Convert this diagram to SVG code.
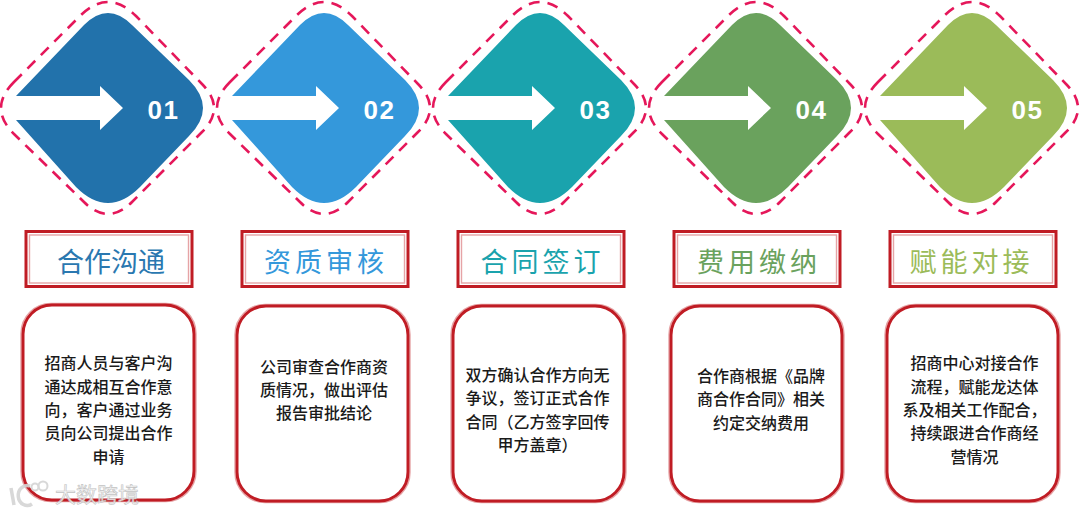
<svg xmlns="http://www.w3.org/2000/svg" width="1080" height="515" viewBox="0 0 1080 515">
<style>
text{font-family:"Liberation Sans","Noto Sans CJK SC",sans-serif}
.d{fill:none;stroke:#e5175a;stroke-width:2.6;stroke-dasharray:11 8}
.n{fill:#fff;font-size:26px;font-weight:700;letter-spacing:1.5px}
.t{font-family:"Noto Sans CJK SC",sans-serif;font-size:27px;font-weight:400;text-anchor:middle;letter-spacing:4px}
.o{fill:none;stroke:#c01c24;stroke-width:3}
.i{fill:none;stroke:#e6a4a6;stroke-width:1.4}
.b{font-family:"Noto Sans CJK SC",sans-serif;font-size:16px;font-weight:500;fill:#1a1a1a;text-anchor:middle}
</style>
<defs>
<path id="dia" d="M16,96L84,25Q108,1 132,25L189,80Q217,108 189,136L140,187Q108,219 76,187L16,120Z"/>
<path id="arr" d="M0,96H100V86L123,108L100,130V120H0Z" fill="#fff"/>
<path id="dash" class="d" d="M14,82L80,16Q108,-12 136,16L202,84Q226,108 202,132L132,202Q108,226 84,202L14,134Q-12,108 14,82Z"/>
<rect id="box" class="o" x="26" y="231.500" width="166" height="55"/>
<rect id="bin" class="i" x="29.500" y="235" width="159" height="48"/>
<rect id="card" class="o" x="23" y="306" width="171" height="195" rx="29"/>
<rect id="cin" class="i" x="21" y="304.500" width="175" height="198" rx="30"/>
</defs>
<g id="connectors"/>
<g id="node1"><use href="#dia" fill="#2272ab"/><use href="#arr"/><use href="#dash"/><text class="n" x="147.500" y="119">01</text><g transform="translate(0 -1)"><use href="#cin"/><use href="#card"/></g><use href="#box"/><use href="#bin"/><text class="t" x="111" y="272" fill="#2a78b0" style="letter-spacing:0">合作沟通</text>
<text class="b"><tspan x="108.500" y="369">招商人员与客户沟</tspan><tspan x="108.500" y="393">通达成相互合作意</tspan><tspan x="108.500" y="416">向，客户通过业务</tspan><tspan x="108.500" y="439">员向公司提出合作</tspan><tspan x="108.500" y="463">申请</tspan></text></g>
<g id="node2" transform="translate(216 0)"><use href="#dia" fill="#3498db"/><use href="#arr"/><use href="#dash"/><text class="n" x="147.500" y="119">02</text><g transform="translate(-2 0)"><use href="#cin"/><use href="#card"/></g><use href="#box"/><use href="#bin"/><text class="t" x="110" y="272" fill="#3498db">资质审核</text>
<text class="b"><tspan x="108" y="373">公司审查合作商资</tspan><tspan x="108" y="396">质情况，做出评估</tspan><tspan x="108" y="419">报告审批结论</tspan></text></g>
<g id="node3" transform="translate(432 0)"><use href="#dia" fill="#1aa3ad"/><use href="#arr"/><use href="#dash"/><text class="n" x="147.500" y="119">03</text><g transform="translate(-2 0)"><use href="#cin"/><use href="#card"/></g><use href="#box"/><use href="#bin"/><text class="t" x="110.500" y="272" fill="#1aa3ad">合同签订</text>
<text class="b"><tspan x="105.500" y="381">双方确认合作方向无</tspan><tspan x="105.500" y="404">争议，签订正式合作</tspan><tspan x="105.500" y="428">合同（乙方签字回传</tspan><tspan x="105.500" y="451">甲方盖章）</tspan></text></g>
<g id="node4" transform="translate(648 0)"><use href="#dia" fill="#6aa25d"/><use href="#arr"/><use href="#dash"/><text class="n" x="147.500" y="119">04</text><use href="#cin"/><use href="#card"/><use href="#box"/><use href="#bin"/><text class="t" x="111" y="272" fill="#6aa25d">费用缴纳</text>
<text class="b"><tspan x="113" y="382">合作商根据《品牌</tspan><tspan x="113" y="405">商合作合同》相关</tspan><tspan x="113" y="429">约定交纳费用</tspan></text></g>
<g id="node5" transform="translate(864 0)"><use href="#dia" fill="#9bbb59"/><use href="#arr"/><use href="#dash"/><text class="n" x="147.500" y="119">05</text><use href="#cin"/><use href="#card"/><use href="#box"/><use href="#bin"/><text class="t" x="107.500" y="272" fill="#9bbb59">赋能对接</text>
<text class="b"><tspan x="110.500" y="369">招商中心对接合作</tspan><tspan x="110.500" y="393">流程，赋能龙达体</tspan><tspan x="110.500" y="416">系及相关工作配合，</tspan><tspan x="110.500" y="439">持续跟进合作商经</tspan><tspan x="110.500" y="463">营情况</tspan></text></g>
<g id="watermark" opacity=".9"><text x="55" y="502" font-size="21" fill="#f4f4f4" stroke="#bdbdbd" stroke-width=".6" style="font-family:'Noto Sans CJK SC',sans-serif">大数跨境</text>
<path d="M11,488L14,505M30,486a9,10 0 1 0 2,18" fill="none" stroke="#d4d4d4" stroke-width="3.500"/><circle cx="35" cy="487" r="3.500" fill="none" stroke="#d4d4d4" stroke-width="2"/><circle cx="43" cy="486" r="4.500" fill="none" stroke="#d4d4d4" stroke-width="2"/></g>
</svg>
